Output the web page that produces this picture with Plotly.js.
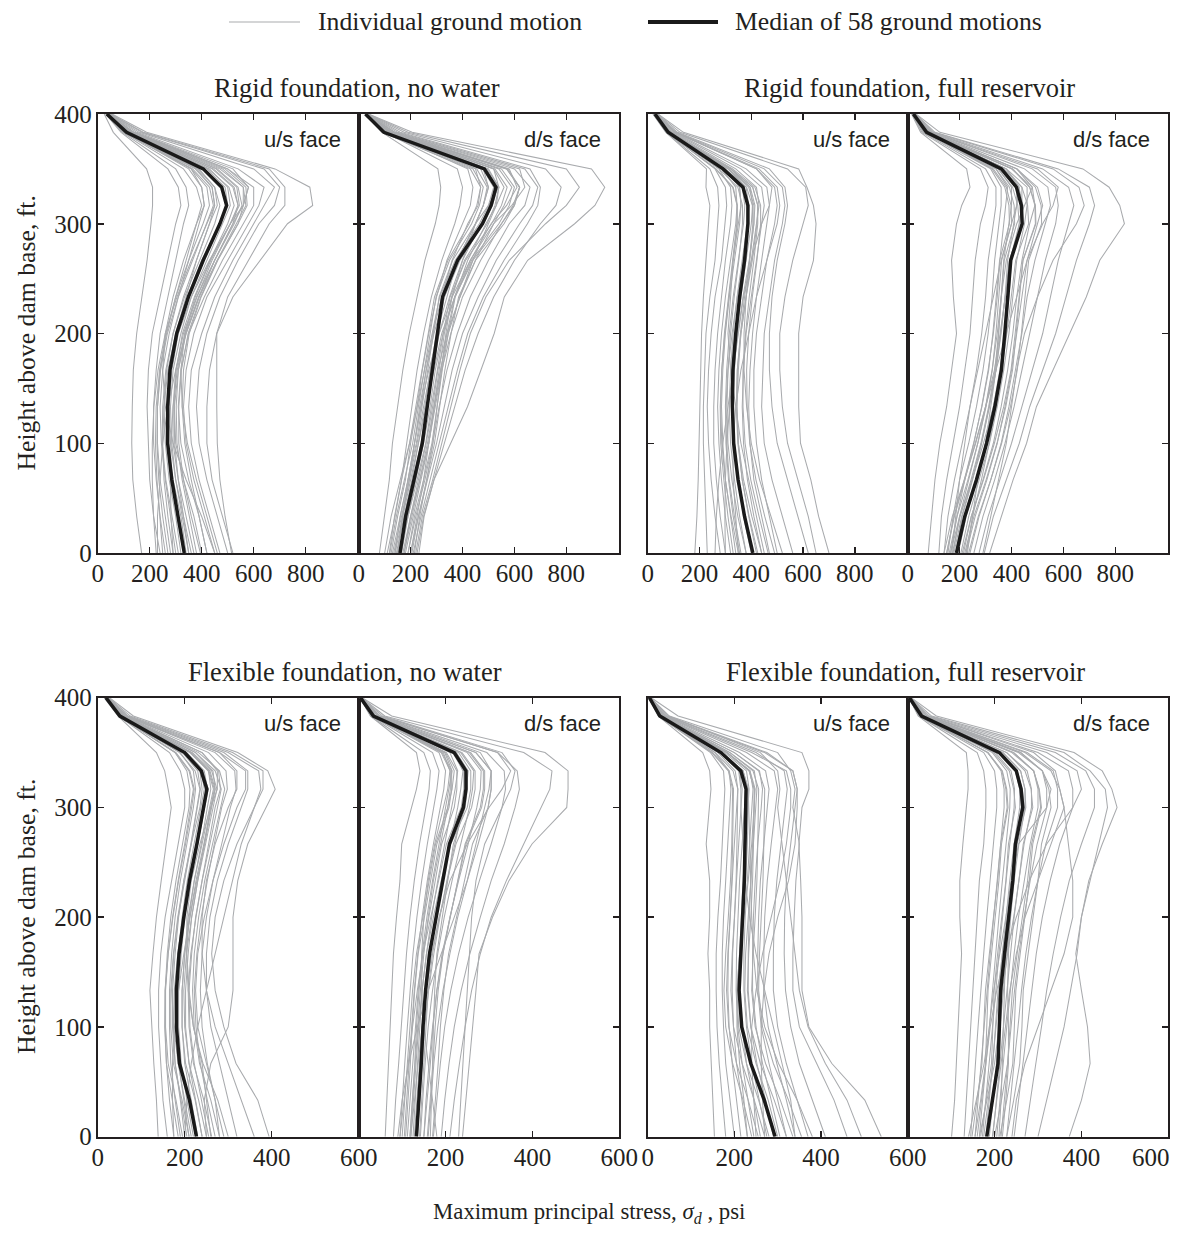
<!DOCTYPE html>
<html>
<head>
<meta charset="utf-8">
<script src="https://cdn.plot.ly/plotly-3.0.1.min.js"></script>
<style>
  html, body { margin: 0; padding: 0; background: #ffffff; }
  #chart { width: 1184px; height: 1236px; }
</style>
</head>
<body>
<div id="chart"></div>
<script>
// Heights above dam base (ft) at which stresses are plotted, bottom to top
const heights = [0, 33.3, 66.7, 100, 133.3, 166.7, 200, 233.3, 266.7, 300, 316.7, 333.3, 350, 383.3, 400];

// ---------- Rigid foundation, no water : u/s face (psi) ----------
const rigidDryUsMedian = [333, 310, 285, 269, 269, 278, 304, 349, 406, 470, 496, 477, 406, 111, 35];
const rigidDryUs = [
  [169, 150, 135, 131, 133, 137, 150, 170, 190, 205, 211, 211, 188, 60, 25],
  [240, 215, 200, 195, 190, 195, 210, 240, 270, 300, 320, 310, 270, 90, 30],
  [260, 240, 225, 215, 215, 225, 240, 270, 300, 330, 350, 340, 300, 95, 32],
  [280, 260, 240, 230, 230, 240, 265, 300, 340, 380, 400, 380, 330, 100, 34],
  [300, 280, 260, 245, 240, 250, 275, 310, 350, 390, 410, 400, 350, 105, 35],
  [320, 300, 275, 260, 255, 265, 290, 330, 380, 430, 450, 440, 380, 110, 35],
  [340, 320, 290, 270, 270, 280, 300, 345, 400, 470, 500, 490, 420, 115, 36],
  [350, 325, 300, 285, 280, 290, 320, 360, 420, 480, 510, 500, 430, 120, 38],
  [370, 340, 310, 290, 290, 300, 330, 380, 450, 520, 540, 520, 440, 125, 40],
  [400, 370, 330, 300, 295, 310, 340, 390, 460, 540, 560, 560, 470, 130, 40],
  [420, 390, 350, 320, 310, 320, 350, 410, 480, 560, 600, 600, 500, 140, 42],
  [450, 410, 370, 340, 330, 340, 370, 420, 500, 580, 620, 640, 540, 150, 45],
  [470, 430, 390, 360, 350, 360, 400, 450, 520, 600, 640, 680, 600, 160, 45],
  [500, 460, 420, 390, 380, 390, 420, 470, 540, 620, 680, 700, 640, 170, 48],
  [520, 480, 440, 420, 420, 430, 458, 500, 580, 660, 720, 720, 660, 175, 50],
  [515, 490, 470, 460, 458, 458, 458, 520, 624, 730, 827, 816, 682, 188, 55],
  [230, 230, 240, 250, 270, 300, 340, 390, 450, 520, 560, 580, 520, 140, 42],
  [450, 400, 340, 290, 260, 250, 260, 290, 330, 380, 410, 400, 360, 110, 35],
  [360, 330, 300, 280, 275, 285, 310, 360, 430, 510, 560, 580, 500, 135, 40],
  [290, 270, 255, 250, 255, 270, 300, 340, 380, 430, 460, 450, 390, 110, 36],
  [270, 250, 235, 228, 230, 242, 268, 310, 365, 420, 445, 430, 365, 100, 32],
  [380, 352, 325, 305, 302, 310, 338, 388, 450, 525, 555, 540, 460, 125, 38],
  [310, 285, 262, 248, 250, 262, 290, 334, 392, 450, 470, 450, 385, 105, 34],
  [420, 390, 360, 335, 325, 330, 352, 398, 462, 540, 575, 570, 490, 132, 40],
  [250, 238, 228, 222, 225, 238, 262, 300, 350, 405, 430, 420, 360, 98, 32],
  [395, 360, 330, 312, 312, 322, 348, 396, 460, 535, 570, 560, 480, 130, 39],
  [225, 215, 210, 210, 216, 232, 260, 305, 360, 420, 450, 440, 375, 102, 33],
  [460, 420, 380, 345, 325, 320, 335, 375, 435, 510, 545, 535, 455, 122, 38],
  [290, 282, 280, 282, 290, 306, 335, 382, 440, 510, 540, 525, 445, 118, 37],
  [350, 330, 310, 296, 294, 302, 326, 372, 432, 500, 525, 505, 425, 112, 35]
];

// ---------- Rigid foundation, no water : d/s face ----------
const rigidDryDsMedian = [159, 181, 213, 245, 264, 284, 303, 323, 381, 477, 510, 529, 484, 97, 26];
const rigidDryDs = [
  [80, 100, 118, 130, 150, 170, 195, 225, 255, 295, 310, 316, 305, 90, 24],
  [110, 140, 165, 185, 205, 225, 250, 280, 320, 370, 390, 400, 380, 100, 26],
  [125, 150, 180, 200, 225, 245, 270, 300, 340, 400, 430, 440, 420, 105, 27],
  [135, 165, 195, 215, 240, 260, 285, 320, 360, 420, 460, 470, 450, 110, 27],
  [145, 175, 205, 230, 255, 275, 300, 340, 380, 450, 480, 500, 470, 110, 28],
  [155, 180, 210, 240, 265, 285, 310, 350, 400, 470, 510, 530, 490, 115, 28],
  [160, 190, 220, 250, 275, 295, 325, 370, 420, 490, 530, 560, 520, 120, 29],
  [170, 200, 230, 260, 285, 305, 340, 390, 450, 520, 560, 590, 540, 125, 30],
  [180, 210, 240, 270, 295, 320, 355, 400, 470, 550, 600, 620, 570, 130, 30],
  [190, 220, 255, 285, 310, 340, 380, 430, 500, 580, 640, 660, 600, 140, 32],
  [200, 230, 265, 300, 330, 360, 400, 460, 530, 620, 670, 690, 640, 150, 33],
  [210, 240, 275, 310, 345, 380, 420, 480, 560, 650, 690, 700, 660, 160, 34],
  [225, 250, 290, 330, 370, 410, 460, 520, 600, 700, 760, 780, 720, 175, 35],
  [232, 252, 290, 355, 419, 471, 522, 561, 651, 832, 910, 948, 897, 206, 38],
  [150, 170, 190, 215, 240, 270, 310, 360, 430, 520, 590, 640, 620, 140, 30],
  [200, 225, 250, 270, 290, 310, 330, 360, 400, 450, 480, 500, 480, 120, 28],
  [130, 160, 190, 215, 235, 260, 290, 330, 380, 450, 500, 540, 520, 125, 29],
  [175, 205, 235, 265, 290, 315, 345, 390, 440, 500, 530, 540, 500, 120, 29],
  [140, 170, 200, 230, 260, 290, 320, 370, 430, 510, 570, 610, 580, 135, 30],
  [220, 245, 285, 320, 355, 390, 430, 490, 580, 720, 800, 850, 800, 190, 36],
  [120, 145, 176, 208, 230, 252, 274, 298, 350, 435, 465, 480, 440, 92, 25],
  [190, 215, 250, 282, 302, 322, 345, 372, 435, 540, 580, 600, 550, 112, 29],
  [140, 160, 190, 222, 244, 266, 288, 310, 362, 450, 480, 495, 455, 94, 25],
  [205, 230, 262, 292, 312, 332, 356, 385, 450, 560, 600, 620, 570, 118, 30],
  [118, 138, 165, 196, 220, 244, 268, 292, 344, 425, 455, 470, 430, 90, 25],
  [175, 200, 236, 270, 292, 315, 340, 370, 440, 550, 595, 620, 575, 115, 30],
  [150, 168, 195, 225, 250, 276, 302, 330, 390, 480, 515, 535, 490, 100, 27],
  [100, 125, 160, 196, 225, 254, 282, 312, 372, 465, 500, 520, 478, 96, 26],
  [215, 235, 262, 286, 302, 318, 336, 358, 408, 495, 525, 540, 495, 100, 27],
  [165, 190, 225, 258, 280, 302, 326, 352, 412, 512, 550, 572, 525, 106, 28]
];

// ---------- Rigid foundation, full reservoir : u/s face ----------
const rigidFullUsMedian = [406, 374, 349, 332, 327, 329, 340, 355, 374, 387, 387, 368, 291, 79, 28];
const rigidFullUs = [
  [182, 190, 195, 198, 201, 205, 208, 215, 225, 235, 240, 225, 227, 70, 20],
  [230, 225, 220, 215, 215, 220, 225, 240, 260, 270, 275, 270, 240, 72, 22],
  [280, 260, 245, 235, 230, 235, 245, 260, 285, 300, 305, 300, 260, 75, 24],
  [300, 280, 265, 255, 255, 260, 270, 285, 300, 320, 325, 320, 275, 76, 25],
  [320, 300, 285, 275, 270, 275, 285, 300, 320, 340, 345, 340, 285, 78, 26],
  [340, 320, 300, 290, 285, 290, 300, 315, 335, 355, 360, 355, 295, 80, 27],
  [360, 335, 315, 305, 300, 305, 315, 330, 350, 370, 375, 365, 300, 82, 28],
  [380, 355, 335, 320, 315, 320, 330, 345, 365, 385, 390, 380, 310, 85, 29],
  [400, 370, 350, 335, 330, 335, 345, 360, 380, 400, 405, 395, 320, 88, 30],
  [420, 390, 365, 350, 345, 350, 360, 380, 400, 420, 430, 420, 340, 90, 30],
  [440, 410, 385, 370, 365, 370, 380, 400, 420, 440, 450, 440, 360, 95, 31],
  [470, 440, 410, 395, 390, 395, 405, 420, 440, 460, 470, 460, 380, 100, 32],
  [500, 470, 440, 420, 410, 410, 420, 440, 460, 490, 500, 490, 420, 105, 33],
  [560, 520, 480, 450, 440, 445, 450, 470, 490, 520, 530, 520, 450, 110, 34],
  [620, 580, 540, 500, 480, 470, 470, 480, 500, 530, 540, 530, 470, 115, 35],
  [700, 660, 630, 590, 583, 583, 583, 600, 640, 650, 640, 615, 583, 138, 40],
  [650, 620, 580, 540, 520, 510, 510, 530, 560, 600, 620, 610, 540, 125, 38],
  [260, 265, 275, 290, 310, 330, 350, 370, 400, 440, 470, 480, 420, 105, 32],
  [450, 420, 390, 360, 340, 320, 310, 320, 330, 350, 360, 355, 300, 82, 28],
  [350, 340, 330, 330, 340, 360, 390, 420, 460, 500, 510, 500, 430, 105, 32],
  [350, 322, 300, 286, 282, 286, 296, 312, 330, 344, 345, 328, 262, 74, 26],
  [465, 430, 398, 376, 368, 368, 378, 392, 410, 425, 425, 405, 320, 86, 30],
  [380, 348, 325, 310, 306, 310, 320, 334, 352, 366, 366, 348, 276, 77, 27],
  [490, 452, 418, 394, 384, 382, 390, 404, 422, 436, 436, 414, 328, 88, 30],
  [330, 310, 294, 282, 280, 286, 298, 314, 332, 346, 346, 330, 264, 74, 26],
  [440, 402, 370, 350, 344, 346, 358, 374, 394, 410, 410, 390, 310, 84, 29],
  [355, 330, 312, 302, 302, 310, 326, 346, 370, 388, 390, 372, 294, 80, 28],
  [520, 475, 432, 400, 382, 372, 372, 380, 394, 406, 404, 382, 300, 81, 28],
  [300, 298, 300, 306, 316, 330, 348, 368, 392, 410, 414, 396, 312, 84, 29],
  [425, 392, 365, 348, 342, 346, 360, 380, 404, 422, 425, 406, 322, 86, 30]
];

// ---------- Rigid foundation, full reservoir : d/s face ----------
const rigidFullDsMedian = [188, 220, 265, 304, 336, 361, 374, 387, 397, 441, 438, 419, 361, 73, 22];
const rigidFullDs = [
  [79, 92, 105, 124, 150, 169, 188, 176, 169, 188, 208, 240, 227, 50, 15],
  [120, 130, 150, 175, 200, 220, 240, 250, 260, 280, 300, 310, 280, 55, 17],
  [140, 155, 180, 210, 240, 265, 285, 300, 310, 330, 340, 340, 300, 60, 18],
  [155, 175, 200, 235, 265, 290, 310, 325, 335, 350, 360, 360, 320, 63, 19],
  [165, 190, 220, 255, 285, 310, 330, 345, 355, 370, 380, 385, 340, 66, 20],
  [175, 200, 235, 270, 300, 325, 345, 360, 370, 390, 400, 400, 350, 68, 21],
  [185, 210, 250, 285, 315, 340, 360, 375, 385, 410, 420, 420, 360, 70, 22],
  [195, 225, 265, 300, 330, 355, 375, 390, 400, 430, 440, 440, 370, 72, 22],
  [205, 235, 275, 315, 345, 370, 390, 405, 420, 450, 460, 460, 380, 75, 23],
  [215, 245, 290, 330, 360, 385, 405, 420, 440, 470, 490, 480, 400, 78, 24],
  [225, 260, 305, 345, 375, 400, 420, 440, 460, 500, 520, 500, 420, 82, 25],
  [240, 275, 320, 360, 390, 415, 440, 460, 490, 530, 550, 540, 450, 85, 26],
  [255, 290, 335, 375, 410, 440, 470, 500, 530, 570, 580, 570, 480, 90, 27],
  [275, 310, 355, 400, 440, 480, 520, 550, 580, 620, 640, 620, 520, 95, 28],
  [295, 330, 380, 430, 470, 520, 570, 610, 650, 700, 720, 700, 580, 105, 30],
  [316, 361, 406, 458, 496, 560, 624, 688, 740, 835, 817, 776, 675, 124, 32],
  [290, 320, 350, 380, 400, 420, 450, 500, 560, 650, 680, 660, 560, 100, 28],
  [170, 185, 200, 220, 240, 270, 300, 330, 360, 400, 420, 430, 380, 75, 22],
  [230, 250, 270, 300, 320, 340, 350, 360, 380, 420, 450, 480, 420, 82, 24],
  [150, 180, 220, 260, 300, 340, 380, 420, 460, 520, 560, 580, 500, 88, 25],
  [160, 190, 232, 270, 302, 326, 340, 352, 362, 400, 398, 380, 330, 68, 21],
  [220, 255, 302, 344, 378, 404, 418, 432, 444, 492, 490, 470, 405, 80, 24],
  [172, 202, 244, 282, 312, 336, 350, 362, 372, 412, 410, 392, 340, 70, 21],
  [235, 272, 320, 362, 396, 422, 438, 452, 466, 516, 514, 492, 422, 82, 24],
  [150, 178, 218, 254, 286, 312, 328, 342, 354, 392, 390, 374, 325, 67, 20],
  [210, 245, 292, 334, 370, 398, 414, 430, 444, 494, 492, 470, 402, 80, 24],
  [178, 208, 248, 284, 314, 340, 358, 376, 392, 440, 444, 428, 368, 74, 22],
  [140, 172, 218, 262, 300, 334, 356, 376, 392, 440, 438, 418, 360, 73, 22],
  [225, 250, 284, 314, 340, 362, 374, 384, 394, 430, 424, 404, 348, 72, 22],
  [165, 200, 248, 292, 330, 362, 382, 400, 416, 466, 462, 440, 378, 75, 23]
];

// ---------- Flexible foundation, no water : u/s face ----------
const flexDryUsMedian = [227, 211, 188, 181, 181, 187, 198, 211, 228, 243, 251, 238, 200, 51, 19];
const flexDryUs = [
  [139, 135, 129, 124, 120, 127, 135, 146, 158, 169, 162, 154, 135, 47, 15],
  [160, 150, 145, 140, 140, 145, 155, 170, 185, 200, 200, 190, 165, 48, 16],
  [175, 165, 158, 155, 155, 160, 168, 180, 195, 210, 212, 205, 178, 49, 17],
  [190, 178, 168, 165, 165, 170, 178, 190, 205, 220, 225, 220, 190, 50, 18],
  [200, 190, 178, 172, 172, 178, 186, 198, 215, 230, 236, 230, 195, 51, 18],
  [210, 198, 186, 180, 180, 185, 194, 206, 222, 238, 245, 238, 200, 52, 19],
  [220, 205, 192, 186, 186, 192, 200, 214, 230, 245, 252, 245, 205, 53, 19],
  [230, 215, 200, 194, 194, 200, 208, 222, 238, 252, 260, 255, 215, 54, 20],
  [240, 225, 210, 202, 202, 208, 216, 230, 245, 260, 270, 265, 225, 56, 20],
  [255, 238, 222, 212, 210, 216, 225, 240, 255, 270, 282, 278, 240, 58, 21],
  [270, 252, 236, 226, 222, 228, 238, 252, 268, 285, 298, 295, 255, 60, 22],
  [290, 270, 252, 240, 236, 240, 250, 265, 285, 305, 318, 315, 270, 63, 23],
  [320, 300, 280, 260, 250, 250, 258, 275, 300, 330, 345, 345, 290, 68, 24],
  [394, 368, 318, 290, 270, 262, 270, 290, 320, 360, 380, 380, 310, 75, 25],
  [250, 245, 260, 300, 311, 311, 311, 322, 345, 387, 408, 391, 322, 82, 27],
  [360, 330, 300, 270, 250, 240, 240, 250, 270, 300, 320, 320, 280, 65, 22],
  [200, 205, 215, 230, 250, 270, 290, 310, 330, 360, 375, 370, 300, 70, 23],
  [260, 250, 240, 220, 210, 205, 205, 215, 235, 260, 275, 275, 240, 58, 20],
  [280, 270, 250, 230, 225, 230, 245, 265, 290, 320, 340, 340, 280, 62, 22],
  [215, 200, 185, 175, 170, 175, 185, 200, 215, 235, 240, 235, 200, 52, 18],
  [195, 180, 162, 156, 156, 162, 172, 185, 200, 214, 220, 210, 178, 49, 18],
  [262, 244, 220, 210, 208, 214, 226, 240, 258, 275, 284, 270, 225, 55, 20],
  [210, 194, 174, 168, 168, 174, 184, 198, 214, 228, 235, 224, 188, 50, 18],
  [280, 260, 234, 222, 218, 222, 232, 246, 264, 282, 292, 280, 232, 57, 21],
  [185, 172, 158, 154, 155, 162, 173, 186, 202, 216, 222, 212, 180, 49, 18],
  [250, 232, 210, 200, 198, 204, 216, 230, 248, 265, 274, 262, 218, 54, 20],
  [205, 192, 178, 174, 176, 184, 196, 212, 230, 246, 254, 242, 202, 52, 19],
  [300, 276, 242, 220, 208, 204, 210, 222, 240, 258, 266, 254, 212, 53, 20],
  [175, 172, 172, 178, 186, 198, 212, 228, 246, 262, 270, 258, 214, 54, 20],
  [240, 224, 202, 194, 194, 200, 212, 226, 244, 260, 268, 256, 214, 53, 20]
];

// ---------- Flexible foundation, no water : d/s face ----------
const flexDryDsMedian = [133, 139, 144, 148, 154, 163, 179, 194, 209, 241, 247, 247, 220, 34, 4];
const flexDryDs = [
  [61, 65, 68, 72, 76, 80, 87, 95, 99, 122, 133, 141, 133, 27, 3],
  [80, 85, 92, 98, 104, 110, 118, 128, 140, 155, 162, 165, 150, 28, 3],
  [95, 100, 106, 112, 118, 125, 134, 145, 158, 172, 180, 185, 170, 30, 3],
  [105, 110, 116, 122, 128, 136, 146, 158, 172, 188, 196, 200, 185, 31, 4],
  [112, 118, 124, 130, 137, 146, 157, 170, 185, 200, 208, 215, 198, 32, 4],
  [120, 126, 132, 138, 146, 156, 168, 182, 198, 215, 222, 228, 210, 33, 4],
  [128, 134, 140, 146, 154, 165, 178, 193, 210, 228, 235, 240, 218, 34, 4],
  [135, 140, 146, 152, 161, 173, 187, 203, 222, 240, 248, 252, 225, 35, 4],
  [142, 147, 153, 160, 170, 182, 197, 215, 235, 255, 262, 265, 235, 36, 5],
  [150, 155, 162, 170, 180, 194, 210, 230, 252, 272, 280, 282, 250, 38, 5],
  [160, 166, 173, 182, 194, 210, 228, 250, 275, 298, 305, 305, 270, 40, 5],
  [172, 180, 188, 198, 212, 230, 252, 278, 305, 330, 338, 335, 295, 45, 5],
  [190, 198, 208, 220, 236, 256, 280, 305, 335, 360, 370, 365, 320, 50, 6],
  [239, 247, 255, 262, 270, 277, 308, 346, 399, 479, 482, 482, 429, 76, 8],
  [210, 220, 232, 245, 260, 280, 305, 340, 380, 420, 440, 445, 380, 60, 7],
  [230, 235, 240, 245, 250, 255, 260, 270, 290, 330, 350, 360, 330, 55, 6],
  [90, 100, 115, 135, 160, 190, 220, 250, 270, 290, 300, 305, 280, 45, 5],
  [180, 170, 160, 150, 145, 145, 150, 160, 175, 195, 205, 210, 195, 32, 4],
  [140, 145, 150, 155, 160, 170, 185, 210, 250, 300, 330, 350, 320, 48, 6],
  [118, 124, 130, 136, 142, 150, 160, 172, 188, 205, 215, 220, 200, 33, 4],
  [108, 114, 119, 123, 129, 137, 151, 165, 180, 208, 214, 214, 192, 31, 4],
  [158, 165, 171, 176, 183, 194, 211, 228, 245, 280, 287, 287, 255, 38, 5],
  [118, 124, 129, 133, 139, 147, 162, 176, 191, 220, 226, 226, 202, 32, 4],
  [170, 177, 183, 188, 196, 207, 225, 243, 262, 298, 305, 305, 270, 40, 5],
  [100, 106, 112, 117, 124, 133, 148, 162, 177, 205, 211, 211, 190, 31, 4],
  [150, 158, 165, 171, 180, 192, 210, 228, 247, 283, 290, 290, 258, 38, 5],
  [125, 130, 135, 140, 146, 156, 172, 190, 212, 250, 258, 258, 230, 35, 5],
  [95, 104, 114, 124, 135, 148, 166, 184, 202, 236, 242, 242, 216, 33, 4],
  [165, 168, 170, 172, 175, 180, 192, 205, 218, 245, 250, 248, 222, 34, 4],
  [120, 128, 137, 146, 156, 168, 186, 204, 224, 260, 268, 268, 238, 36, 5]
];

// ---------- Flexible foundation, full reservoir : u/s face ----------
const flexFullUsMedian = [294, 269, 238, 217, 211, 214, 219, 223, 225, 227, 227, 215, 169, 28, 4];
const flexFullUs = [
  [154, 150, 146, 143, 143, 139, 143, 143, 135, 143, 146, 143, 127, 24, 3],
  [180, 172, 165, 160, 158, 158, 162, 168, 172, 175, 178, 175, 145, 25, 3],
  [200, 190, 180, 175, 172, 172, 175, 180, 185, 190, 192, 188, 155, 26, 3],
  [215, 205, 195, 188, 185, 186, 190, 195, 200, 205, 208, 202, 162, 27, 3],
  [230, 218, 205, 198, 195, 196, 200, 205, 210, 215, 218, 212, 168, 27, 4],
  [245, 232, 218, 208, 204, 205, 208, 212, 218, 224, 226, 220, 172, 28, 4],
  [260, 245, 228, 218, 212, 212, 216, 220, 226, 232, 234, 228, 178, 29, 4],
  [275, 258, 240, 228, 222, 222, 225, 230, 235, 240, 243, 236, 184, 30, 4],
  [290, 272, 252, 238, 232, 232, 234, 238, 244, 250, 252, 246, 190, 31, 4],
  [305, 285, 265, 250, 242, 242, 244, 248, 254, 262, 265, 258, 200, 32, 4],
  [320, 300, 280, 262, 254, 254, 256, 260, 268, 276, 280, 272, 212, 34, 5],
  [340, 320, 298, 278, 268, 268, 270, 276, 285, 295, 300, 292, 228, 36, 5],
  [370, 345, 320, 300, 290, 290, 292, 298, 308, 318, 322, 315, 250, 40, 5],
  [410, 380, 350, 330, 318, 315, 316, 320, 330, 340, 345, 335, 275, 45, 6],
  [460, 430, 390, 350, 335, 335, 338, 342, 350, 335, 340, 330, 300, 50, 6],
  [539, 501, 425, 372, 356, 356, 356, 353, 349, 356, 372, 372, 356, 70, 8],
  [493, 460, 410, 370, 350, 340, 330, 320, 310, 300, 305, 300, 260, 48, 6],
  [250, 245, 240, 240, 250, 265, 285, 305, 320, 330, 330, 320, 240, 38, 5],
  [340, 330, 310, 290, 270, 250, 235, 225, 220, 215, 215, 210, 170, 28, 4],
  [270, 265, 262, 262, 268, 280, 300, 325, 340, 345, 345, 335, 270, 42, 5],
  [255, 232, 205, 187, 182, 185, 190, 194, 196, 198, 198, 188, 150, 26, 3],
  [335, 306, 272, 248, 240, 243, 248, 252, 254, 256, 256, 243, 190, 31, 4],
  [270, 246, 218, 198, 192, 195, 200, 204, 206, 208, 208, 197, 156, 27, 4],
  [355, 325, 290, 265, 256, 258, 262, 266, 268, 270, 270, 256, 200, 32, 4],
  [240, 220, 196, 180, 176, 180, 186, 191, 194, 196, 196, 186, 148, 26, 3],
  [320, 292, 260, 238, 230, 233, 238, 242, 244, 246, 246, 234, 183, 30, 4],
  [280, 256, 228, 210, 206, 212, 220, 226, 230, 232, 232, 220, 172, 28, 4],
  [380, 345, 302, 270, 252, 244, 240, 238, 236, 234, 232, 220, 172, 28, 4],
  [230, 222, 212, 206, 206, 212, 222, 232, 240, 246, 248, 236, 184, 30, 4],
  [300, 278, 250, 230, 224, 226, 232, 238, 242, 246, 246, 234, 182, 30, 4]
];

// ---------- Flexible foundation, full reservoir : d/s face ----------
const flexFullDsMedian = [182, 196, 208, 211, 214, 223, 233, 242, 248, 265, 261, 250, 211, 32, 4];
const flexFullDs = [
  [101, 108, 112, 116, 120, 124, 120, 120, 127, 135, 139, 139, 135, 24, 3],
  [130, 135, 140, 145, 150, 155, 160, 165, 175, 180, 180, 175, 160, 26, 3],
  [145, 150, 156, 162, 168, 175, 182, 190, 198, 205, 205, 200, 175, 27, 3],
  [155, 162, 168, 175, 182, 190, 198, 206, 214, 222, 222, 215, 185, 28, 4],
  [165, 172, 180, 188, 195, 202, 210, 218, 226, 235, 236, 228, 195, 29, 4],
  [172, 180, 188, 196, 203, 210, 218, 226, 235, 245, 246, 238, 202, 30, 4],
  [180, 188, 196, 204, 211, 218, 226, 235, 245, 258, 258, 250, 210, 31, 4],
  [188, 196, 204, 212, 220, 228, 236, 245, 256, 270, 270, 260, 218, 32, 4],
  [196, 204, 212, 220, 228, 236, 245, 256, 268, 285, 285, 275, 228, 33, 4],
  [205, 212, 220, 228, 236, 245, 255, 268, 282, 300, 300, 290, 240, 35, 5],
  [215, 222, 230, 238, 246, 256, 268, 282, 298, 320, 320, 310, 255, 37, 5],
  [228, 236, 245, 254, 262, 272, 285, 300, 318, 345, 345, 335, 275, 40, 5],
  [245, 255, 265, 275, 285, 296, 310, 328, 350, 380, 380, 370, 300, 44, 6],
  [270, 282, 295, 308, 320, 335, 352, 372, 400, 430, 430, 410, 340, 50, 6],
  [372, 400, 420, 414, 400, 387, 400, 417, 448, 482, 470, 448, 383, 66, 8],
  [300, 320, 340, 360, 375, 390, 400, 420, 440, 460, 455, 420, 360, 55, 7],
  [240, 250, 270, 300, 330, 360, 380, 380, 370, 360, 350, 340, 290, 45, 6],
  [160, 170, 180, 190, 205, 225, 250, 280, 320, 380, 400, 390, 320, 45, 6],
  [210, 215, 218, 220, 222, 225, 230, 240, 255, 320, 330, 310, 260, 38, 5],
  [195, 205, 215, 225, 235, 250, 270, 300, 330, 360, 350, 330, 270, 40, 5],
  [155, 168, 179, 182, 185, 193, 202, 210, 216, 231, 228, 218, 185, 29, 4],
  [212, 228, 242, 246, 249, 259, 270, 280, 288, 308, 303, 290, 244, 36, 5],
  [168, 181, 193, 196, 199, 207, 217, 226, 232, 248, 244, 234, 198, 30, 4],
  [228, 244, 258, 263, 266, 277, 289, 300, 308, 330, 325, 310, 260, 38, 5],
  [148, 160, 171, 175, 179, 188, 198, 207, 214, 229, 226, 217, 184, 29, 4],
  [200, 216, 230, 236, 241, 252, 264, 276, 285, 306, 302, 290, 244, 36, 5],
  [175, 186, 196, 202, 208, 218, 230, 242, 252, 272, 270, 260, 220, 33, 4],
  [140, 158, 176, 188, 198, 212, 226, 238, 248, 268, 264, 252, 212, 32, 4],
  [218, 226, 232, 232, 230, 232, 236, 242, 246, 262, 258, 248, 210, 32, 4],
  [165, 182, 200, 210, 218, 230, 244, 256, 266, 288, 284, 270, 228, 34, 4]
];

// Tick values and labels
const xTicksTop = [0, 200, 400, 600, 800];
const xTicksBottomFirst = [0, 200, 400, 600];
const xTicksBottomNext = [200, 400, 600];
const xTicksBottomLast = [200, 400];
const lastEdgeLabel = 600;
const yTicks = [0, 100, 200, 300, 400];

// Text
const panelTitles = ["Rigid foundation, no water", "Rigid foundation, full reservoir",
                     "Flexible foundation, no water", "Flexible foundation, full reservoir"];
const faceLabels = ["u/s face", "d/s face", "u/s face", "d/s face", "u/s face", "d/s face", "u/s face", "d/s face"];
const legendLabels = ["Individual ground motion", "Median of 58 ground motions"];
const xAxisTitle = "Maximum principal stress, <i>σ</i><sub><i>d</i></sub> , psi";
const yAxisTitle = "Height above dam base, ft.";

// ---------- Build figure ----------
const W = 1184, H = 1236;
const px = v => v / W;
const py = v => 1 - v / H;

const panelData = [
  {lines: rigidDryUs, median: rigidDryUsMedian},
  {lines: rigidDryDs, median: rigidDryDsMedian},
  {lines: rigidFullUs, median: rigidFullUsMedian},
  {lines: rigidFullDs, median: rigidFullDsMedian},
  {lines: flexDryUs, median: flexDryUsMedian},
  {lines: flexDryDs, median: flexDryDsMedian},
  {lines: flexFullUs, median: flexFullUsMedian},
  {lines: flexFullDs, median: flexFullDsMedian}
];

const colEdges = [[97.7, 358.7], [358.7, 619.3], [647.7, 907.7], [907.7, 1168.3]];
const rowEdges = [[114, 553], [697.7, 1136.7]];

const GRAY = '#a9abae';
const DARK = '#231f20';
const SERIF = 'Liberation Serif, Times New Roman, serif';
const SANS = 'Liberation Sans, Arial, sans-serif';

const traces = [];
const layout = {
  width: W, height: H,
  margin: {l: 0, r: 0, t: 0, b: 0},
  paper_bgcolor: '#ffffff', plot_bgcolor: '#ffffff',
  showlegend: false,
  font: {family: SERIF, size: 25, color: DARK},
  annotations: [], shapes: []
};

panelData.forEach((p, i) => {
  const row = Math.floor(i / 4), col = i % 4;
  const n = i + 1;
  const xa = n === 1 ? 'x' : 'x' + n;
  const ya = n === 1 ? 'y' : 'y' + n;
  const xk = n === 1 ? 'xaxis' : 'xaxis' + n;
  const yk = n === 1 ? 'yaxis' : 'yaxis' + n;

  p.lines.forEach(vals => {
    traces.push({type: 'scatter', mode: 'lines', x: vals, y: heights, xaxis: xa, yaxis: ya,
      line: {color: GRAY, width: 1.05}, hoverinfo: 'skip'});
  });
  traces.push({type: 'scatter', mode: 'lines', x: p.median, y: heights, xaxis: xa, yaxis: ya,
    line: {color: '#1a1a1a', width: 3.5}, hoverinfo: 'skip'});

  let xt;
  if (row === 0) xt = xTicksTop;
  else if (col === 1) xt = xTicksBottomNext;
  else if (col === 3) xt = xTicksBottomLast;
  else xt = xTicksBottomFirst;
  layout[xk] = {
    domain: [px(colEdges[col][0]), px(colEdges[col][1])],
    anchor: ya,
    range: row === 0 ? [0, 1004] : [0, 600],
    tickvals: xt, tickmode: 'array',
    ticks: 'inside', ticklen: 6, tickwidth: 1.5, tickcolor: DARK,
    showline: true, linewidth: 2, linecolor: DARK, mirror: 'ticks',
    showgrid: false, zeroline: false,
    tickfont: {family: SERIF, size: 25, color: DARK},
    ticklabelstandoff: -3, ticklabeloverflow: 'allow', fixedrange: true
  };
  layout[yk] = {
    domain: [py(rowEdges[row][1]), py(rowEdges[row][0])],
    anchor: xa,
    range: [0, 400],
    tickvals: yTicks, tickmode: 'array',
    showticklabels: col === 0,
    ticks: 'inside', ticklen: 6, tickwidth: 1.5, tickcolor: DARK,
    showline: true, linewidth: 2, linecolor: DARK, mirror: 'ticks',
    showgrid: false, zeroline: false,
    tickfont: {family: SERIF, size: 25, color: DARK},
    ticklabelstandoff: -1, ticklabeloverflow: 'allow', fixedrange: true
  };

  layout.annotations.push({
    xref: xa + ' domain', yref: ya + ' domain', x: 1, y: 1,
    xanchor: 'right', yanchor: 'middle', xshift: -16, yshift: -26,
    text: faceLabels[i], showarrow: false,
    font: {family: SANS, size: 22, color: DARK}
  });
});

// Edge tick label of the last panel, kept inside the figure
layout.annotations.push({xref: 'x8', yref: 'paper', x: lastEdgeLabel, y: py(1157),
  xanchor: 'right', yanchor: 'middle', xshift: 4, text: String(lastEdgeLabel), showarrow: false,
  font: {family: SERIF, size: 25, color: DARK}});

// Panel group titles
const titlePos = [[357, 88], [909, 88], [345, 672], [905, 672]];
panelTitles.forEach((t, k) => {
  layout.annotations.push({xref: 'paper', yref: 'paper', x: px(titlePos[k][0]), y: py(titlePos[k][1]),
    xanchor: 'center', yanchor: 'middle', text: t, showarrow: false,
    font: {family: SERIF, size: 26.5, color: DARK}});
});

// Axis titles
layout.annotations.push({xref: 'paper', yref: 'paper', x: px(589), y: py(1213),
  xanchor: 'center', yanchor: 'middle', text: xAxisTitle, showarrow: false,
  font: {family: SERIF, size: 22.8, color: DARK}});
[333.5, 917].forEach(cy => {
  layout.annotations.push({xref: 'paper', yref: 'paper', x: px(26), y: py(cy),
    xanchor: 'center', yanchor: 'middle', text: yAxisTitle, textangle: -90, showarrow: false,
    font: {family: SERIF, size: 25.7, color: DARK}});
});

// Legend (drawn at the top of the figure)
layout.shapes.push({type: 'line', xref: 'paper', yref: 'paper', x0: px(229), x1: px(300), y0: py(22), y1: py(22),
  line: {color: GRAY, width: 1.2}});
layout.shapes.push({type: 'line', xref: 'paper', yref: 'paper', x0: px(648), x1: px(718), y0: py(22), y1: py(22),
  line: {color: '#1a1a1a', width: 4}});
layout.annotations.push({xref: 'paper', yref: 'paper', x: px(316), y: py(22), xanchor: 'left', yanchor: 'middle',
  text: legendLabels[0], showarrow: false, font: {family: SERIF, size: 25.7, color: DARK}});
layout.annotations.push({xref: 'paper', yref: 'paper', x: px(733), y: py(22), xanchor: 'left', yanchor: 'middle',
  text: legendLabels[1], showarrow: false, font: {family: SERIF, size: 25.7, color: DARK}});

Plotly.newPlot('chart', traces, layout, {displayModeBar: false, staticPlot: true});
</script>
</body>
</html>
